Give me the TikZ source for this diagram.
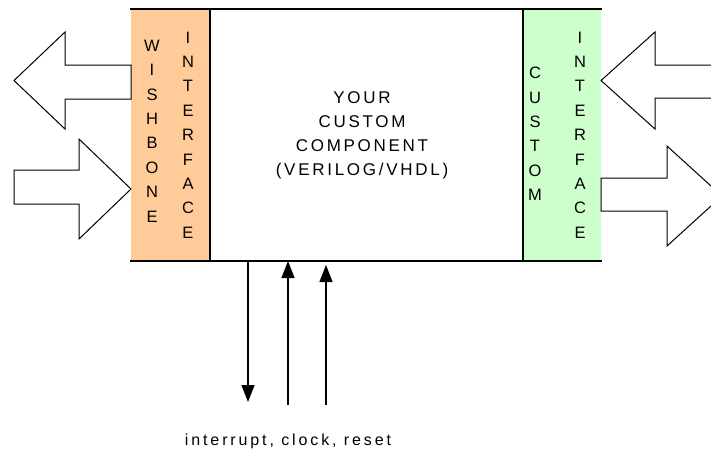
\documentclass[tikz,border=0pt]{standalone}
\usepackage{fontspec}
\setmainfont{Liberation Sans}
\newfontfamily\spaced{Liberation Sans}[LetterSpace=18]
\newfontfamily\spacedc{Liberation Sans}[LetterSpace=16]
\usetikzlibrary{arrows.meta}
\definecolor{wbfill}{HTML}{FFCC99}
\definecolor{cifill}{HTML}{CCFFCC}
\begin{document}
\begin{tikzpicture}[x=1pt,y=-1pt,
  boxline/.style={line width=1.3pt,line cap=rect},
  blockarrow/.style={draw=black,fill=white,line width=1pt,line join=miter},
  sig/.style={line width=1.3pt,-{Triangle[length=17pt,width=13pt]}},
  vtext/.style={font=\fontsize{16.5}{24.4}\selectfont,align=center,inner sep=0pt},
  ctext/.style={font=\spacedc\fontsize{17}{24}\selectfont,align=center,inner sep=0pt},
  captext/.style={font=\spaced\fontsize{16}{20}\selectfont,inner sep=0pt}]
\useasboundingbox (0,0) rectangle (711,451);
\clip (0,0) rectangle (711,451);
% fills
\fill[wbfill] (131,9) rectangle (210,261);
\fill[cifill] (523,9) rectangle (601,261);
% box lines
\draw[boxline] (131,9) -- (601,9);
\draw[boxline] (131,261) -- (601,261);
\draw[boxline] (210,9) -- (210,261);
\draw[boxline] (523,9) -- (523,261);
% block arrows
\draw[blockarrow] (131,65) -- (65,65) -- (65,32) -- (14,80.5) -- (65,129) -- (65,99) -- (131,99) -- cycle;
\draw[blockarrow] (14,170) -- (79,170) -- (79,139) -- (131,189) -- (79,239) -- (79,204) -- (14,204) -- cycle;
\draw[blockarrow] (720,65) -- (655,65) -- (655,32) -- (601,80.5) -- (655,129) -- (655,98) -- (720,98);
\draw[blockarrow] (601,178) -- (667,178) -- (667,146) -- (722,196) -- (667,246) -- (667,211) -- (601,211) -- cycle;
% texts
\node[vtext] (wb) at (152,131) {W\\I\\S\\H\\B\\O\\N\\E};
\node[vtext] (wbi) at (188,135) {I\\N\\T\\E\\R\\F\\A\\C\\E};
\node[vtext] (cu) at (535,134) {C\\U\\S\\T\\O\\M};
\node[vtext] (cui) at (580,135) {I\\N\\T\\E\\R\\F\\A\\C\\E};
\node[ctext] (comp) at (362,135) {YOUR\\CUSTOM\\COMPONENT\\(VERILOG/VHDL)};
\node[captext,anchor=base] (cap) at (288,445) {interrupt, clock, reset};
% signals
\coordinate (irqA) at (248,261);
\coordinate (irqB) at (248,402);
\coordinate (clkA) at (288,405);
\coordinate (clkB) at (288,261);
\coordinate (rstA) at (326,405);
\coordinate (rstB) at (326,265);
\draw[sig] (irqA) -- (irqB);
\draw[sig] (clkA) -- (clkB);
\draw[sig] (rstA) -- (rstB);
\end{tikzpicture}
\end{document}
